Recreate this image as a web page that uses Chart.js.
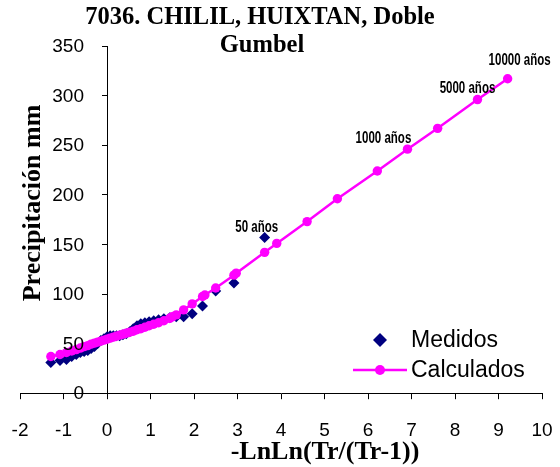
<!DOCTYPE html>
<html>
<head>
<meta charset="utf-8">
<script src="https://cdn.jsdelivr.net/npm/chart.js"></script>
<style>
body { margin: 0; background: #fff; }
</style>
</head>
<body>
<canvas id="grafica" width="560" height="467"></canvas>
<script>
// 7036 Chilil, Huixtan - ajuste Doble Gumbel
var xMedidos = [-1.291, -1.080, -0.932, -0.812, -0.707, -0.613, -0.526, -0.443, -0.365, -0.289,
    -0.215, -0.142, -0.070, 0.002, 0.073, 0.145, 0.218, 0.291, 0.367, 0.443,
    0.522, 0.604, 0.689, 0.778, 0.871, 0.969, 1.074, 1.186, 1.308, 1.442,
    1.592, 1.761, 1.958, 2.196, 2.498, 2.918, 3.624];
var yMedidos = [31, 33, 34, 37, 39, 41, 42, 43, 45, 47,
    50, 53, 55, 57, 58, 58, 58, 58, 59, 60,
    62, 65, 68, 70, 71, 72, 73, 74, 75, 76,
    77, 77, 80, 88, 103, 111, 157];

var xCalculados = [-1.291, -1.080, -0.932, -0.812, -0.707, -0.613, -0.526, -0.443, -0.365, -0.289,
    -0.215, -0.142, -0.070, 0.002, 0.073, 0.145, 0.218, 0.291, 0.367, 0.443,
    0.522, 0.604, 0.689, 0.778, 0.871, 0.969, 1.074, 1.186, 1.308, 1.442,
    1.500, 1.592, 1.761, 1.958, 2.196, 2.250, 2.498, 2.918, 2.970, 3.624,
    3.902, 4.600, 5.296, 6.214, 6.907, 7.601, 8.517, 9.210];
var yCalculados = [37, 39, 41, 42.5, 44, 45.5, 47, 48, 49.5, 50.5,
    51.5, 52.5, 53.5, 54.5, 55.5, 56.5, 57.5, 58.5, 59.5, 60.5,
    61.5, 62.5, 64, 65, 66.5, 68, 69.5, 71, 73, 75.5,
    77, 79, 84, 90, 97.5, 99, 106, 119, 121, 142,
    151, 173, 196, 224, 246, 267, 296, 317];

var etiquetasTr = ["50 años", "1000 años", "5000 años", "10000 años"];
var xEtiquetas = [3.902, 6.907, 8.517, 9.210];

var colorMedidos = "#000080";
var colorCalculados = "#FF00FF";

function puntos(xs, ys) {
    return xs.map(function(x, i) { return {x: x, y: ys[i]}; });
}

// textos que Chart.js no coloca donde van: titulos, leyenda, etiquetas de Tr
// y los numeros del eje y (el eje va en x=0 y los quiero separados de la linea)
var textosPlugin = {
    id: 'textos',
    afterDraw: function(chart) {
        var ctx = chart.ctx;
        var sx = chart.scales.x, sy = chart.scales.y;
        ctx.save();
        ctx.fillStyle = "#000";
        ctx.textBaseline = "middle";

        // numeros del eje y
        ctx.textAlign = "right";
        ctx.font = '19px "Liberation Sans", Arial, sans-serif';
        var ejeX = sx.getPixelForValue(0);
        sy.ticks.forEach(function(t) {
            ctx.fillText(String(t.value), ejeX - 23, sy.getPixelForValue(t.value) + 1);
        });

        // titulo
        ctx.textAlign = "center";
        ctx.font = 'bold 24.5px "Liberation Serif", serif';
        ctx.fillText("7036. CHILIL, HUIXTAN, Doble", 260, 18);
        ctx.fillText("Gumbel", 262, 46);

        // titulos de ejes
        ctx.font = 'bold 26px "Liberation Serif", serif';
        ctx.fillText("-LnLn(Tr/(Tr-1))", 325, 452);
        ctx.save();
        ctx.translate(33, 203);
        ctx.rotate(-Math.PI / 2);
        ctx.fillText("Precipitación mm", 0, 0);
        ctx.restore();

        // etiquetas de periodo de retorno (letra angosta)
        var desp = [[-20, -16], [-24, -11], [-10, -11], [12, -18]];
        ctx.font = 'bold 16px "Liberation Sans", Arial, sans-serif';
        etiquetasTr.forEach(function(txt, i) {
            var k = xCalculados.indexOf(xEtiquetas[i]);
            var px = sx.getPixelForValue(xCalculados[k]);
            var py = sy.getPixelForValue(yCalculados[k]);
            ctx.save();
            ctx.translate(px + desp[i][0], py + desp[i][1]);
            ctx.scale(0.72, 1);
            ctx.fillText(txt, 0, 0);
            ctx.restore();
        });

        // leyenda
        ctx.textAlign = "left";
        ctx.font = '23px "Liberation Sans", Arial, sans-serif';
        ctx.fillStyle = colorMedidos;
        ctx.beginPath();
        ctx.moveTo(380, 333); ctx.lineTo(387, 340); ctx.lineTo(380, 347); ctx.lineTo(373, 340);
        ctx.closePath();
        ctx.fill();
        ctx.strokeStyle = colorCalculados;
        ctx.lineWidth = 2.5;
        ctx.beginPath();
        ctx.moveTo(353, 370); ctx.lineTo(407, 370);
        ctx.stroke();
        ctx.fillStyle = colorCalculados;
        ctx.beginPath();
        ctx.arc(380, 370, 5, 0, Math.PI * 2);
        ctx.fill();
        ctx.fillStyle = "#000";
        ctx.fillText("Medidos", 411, 341);
        ctx.fillText("Calculados", 411, 371);
        ctx.restore();
    }
};

new Chart(document.getElementById('grafica'), {
    type: 'scatter',
    data: {
        datasets: [{
            label: 'Medidos',
            data: puntos(xMedidos, yMedidos),
            pointStyle: 'rectRot',
            pointRadius: 5.5,
            backgroundColor: colorMedidos,
            borderColor: colorMedidos,
            borderWidth: 0,
            order: 2
        }, {
            label: 'Calculados',
            data: puntos(xCalculados, yCalculados),
            showLine: true,
            borderColor: colorCalculados,
            backgroundColor: colorCalculados,
            borderWidth: 2.5,
            pointRadius: 4.7,
            pointBorderWidth: 0,
            order: 1
        }]
    },
    options: {
        responsive: false,
        animation: false,
        layout: {
            padding: {top: 46, left: 20, right: 18, bottom: 5}
        },
        plugins: {
            legend: {display: false},
            tooltip: {enabled: false}
        },
        scales: {
            x: {
                type: 'linear',
                position: 'bottom',
                min: -2,
                max: 10,
                // el padding de las etiquetas no debe comerse los lados
                afterFit: function(scale) {
                    scale.paddingLeft = 0;
                    scale.paddingRight = 0;
                },
                ticks: {
                    stepSize: 1,
                    padding: 20,
                    color: '#000',
                    font: {family: '"Liberation Sans", Arial, sans-serif', size: 19}
                },
                grid: {drawOnChartArea: false, tickLength: 6, color: '#000'},
                border: {color: '#000', width: 1}
            },
            y: {
                type: 'linear',
                position: {x: 0},
                min: 0,
                max: 350,
                ticks: {
                    stepSize: 50,
                    display: false
                },
                grid: {drawOnChartArea: false, tickLength: 5, color: '#000'},
                border: {color: '#000', width: 1}
            }
        }
    },
    plugins: [textosPlugin]
});
</script>
</body>
</html>
